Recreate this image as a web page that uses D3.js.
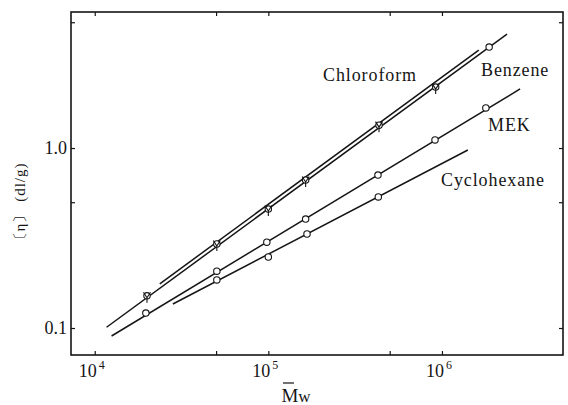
<!DOCTYPE html>
<html>
<head>
<meta charset="utf-8">
<script src="https://cdn.jsdelivr.net/npm/d3@7"></script>
<style>
  html, body { margin: 0; padding: 0; background: #fff; }
  svg { display: block; }
  text { font-family: "Liberation Serif", "DejaVu Serif", serif; fill: #151515; }
</style>
</head>
<body>
<svg id="chart" width="568" height="405"></svg>
<script>
// ---- Data ----
const benzeneM   = [2.0e4, 5.05e4, 1.0e5, 1.64e5, 4.34e5, 9.2e5, 1.87e6];
const benzeneEta = [0.151, 0.293, 0.458, 0.664, 1.34, 2.18, 3.64];
const chloroM    = [2.0e4, 5.05e4, 1.0e5, 1.64e5, 4.34e5, 9.2e5];
const chloroEta  = [0.151, 0.293, 0.458, 0.664, 1.34, 2.18];
const mekM       = [1.97e4, 5.05e4, 9.8e4, 1.64e5, 4.28e5, 9.12e5, 1.79e6];
const mekEta     = [0.121, 0.207, 0.300, 0.403, 0.708, 1.11, 1.67];
const cycloM     = [5.05e4, 1.0e5, 1.67e5, 4.3e5];
const cycloEta   = [0.185, 0.248, 0.333, 0.535];

// fitted straight lines (end points)
const benzeneLineM = [1.17e4, 2.37e6], benzeneLineEta = [0.101, 4.30];
const chloroLineM  = [2.37e4, 1.63e6], chloroLineEta  = [0.176, 3.50];
const mekLineM     = [1.25e4, 2.82e6], mekLineEta     = [0.0903, 2.13];
const cycloLineM   = [2.82e4, 1.41e6], cycloLineEta   = [0.136, 0.975];

const xMajor = [1e4, 1e5, 1e6];
const xMinor = [5e4, 5e5];
const xTickLabels = ["4", "5", "6"];
const yTicks = [0.1, 0.5, 1.0, 5.0];
const yLabelTicks = [0.1, 1.0];
const yTickLabels = ["0.1", "1.0"];

const seriesLabels = ["Chloroform", "Benzene", "MEK", "Cyclohexane"];

// ---- Layout ----
const svg = d3.select("#chart");
const L = 71, R = 563, T = 12, B = 355;
const x = d3.scaleLog().domain([7300, 4.98e6]).range([L, R]);
const y = d3.scaleLog().domain([0.0708, 5.70]).range([B, T]);
const ink = "#151515";

// frame
svg.append("rect").attr("x", L).attr("y", T).attr("width", R - L).attr("height", B - T)
  .attr("fill", "none").attr("stroke", ink).attr("stroke-width", 1.6);

// ticks (inward on all four sides)
const xAll = xMajor.concat(xMinor);
const gB = svg.append("g").attr("transform", `translate(0,${B})`)
  .call(d3.axisBottom(x).tickValues(xAll).tickSize(-4).tickFormat(""));
const gT = svg.append("g").attr("transform", `translate(0,${T})`)
  .call(d3.axisTop(x).tickValues(xAll).tickSize(-4).tickFormat(""));
const gL = svg.append("g").attr("transform", `translate(${L},0)`)
  .call(d3.axisLeft(y).tickValues(yTicks).tickSize(-4).tickFormat(""));
const gR = svg.append("g").attr("transform", `translate(${R},0)`)
  .call(d3.axisRight(y).tickValues(yTicks).tickSize(-4).tickFormat(""));
[gB, gT, gL, gR].forEach(g => {
  g.select(".domain").remove();
  g.selectAll("line").attr("stroke", ink).attr("stroke-width", 1.2);
});

// x tick labels 10^n
xMajor.forEach((v, i) => {
  const t = svg.append("text").attr("x", x(v) - 3).attr("y", 377)
    .attr("text-anchor", "middle").attr("font-size", 18);
  t.append("tspan").text("10");
  t.append("tspan").attr("dy", -8).attr("font-size", 12).attr("dx", 2).text(xTickLabels[i]);
});

// y tick labels
yLabelTicks.forEach((v, i) => {
  svg.append("text").attr("x", L - 4).attr("y", y(v) + 6)
    .attr("text-anchor", "end").attr("font-size", 18).text(yTickLabels[i]);
});

// axis titles
const xt = svg.append("text").attr("x", 296).attr("y", 402).attr("text-anchor", "middle")
  .attr("font-size", 19);
xt.append("tspan").text("M");
xt.append("tspan").text("w").attr("font-size", 17);
svg.append("line").attr("x1", 283).attr("x2", 294).attr("y1", 383).attr("y2", 383)
  .attr("stroke", ink).attr("stroke-width", 1.2);

svg.append("text")
  .attr("transform", "translate(25,205) rotate(-90)")
  .attr("text-anchor", "middle").attr("font-size", 15).attr("fill", "#333")
  .attr("letter-spacing", 1)
  .text("〔η〕 (dl/g)");

// lines
const line = d3.line().x(d => x(d[0])).y(d => y(d[1]));
const lines = [
  [benzeneLineM, benzeneLineEta],
  [chloroLineM, chloroLineEta],
  [mekLineM, mekLineEta],
  [cycloLineM, cycloLineEta]
];
lines.forEach(([ms, es]) => {
  svg.append("path").datum(ms.map((m, i) => [m, es[i]]))
    .attr("d", line).attr("fill", "none").attr("stroke", ink).attr("stroke-width", 1.5);
});

// markers
function circles(ms, es) {
  svg.append("g").selectAll("circle").data(ms.map((m, i) => [m, es[i]])).join("circle")
    .attr("cx", d => x(d[0])).attr("cy", d => y(d[1])).attr("r", 3.2)
    .attr("fill", "#fff").attr("stroke", ink).attr("stroke-width", 1.1);
}
circles(mekM, mekEta);
circles(cycloM, cycloEta);
circles(benzeneM, benzeneEta);
// chloroform: small down-pointing marks with a tail, overlapping the benzene circles
const cg = svg.append("g");
chloroM.forEach((m, i) => {
  const cx = x(m), cy = y(chloroEta[i]);
  cg.append("path")
    .attr("d", `M${cx - 3.5},${cy - 3.5} L${cx},${cy + 2} L${cx + 3.5},${cy - 3.5} M${cx},${cy + 2} L${cx},${cy + 7}`)
    .attr("fill", "none").attr("stroke", ink).attr("stroke-width", 1.1);
});

// series labels
const labelPos = [[323, 81], [481, 76], [488, 131], [441, 186]];
seriesLabels.forEach((s, i) => {
  svg.append("text").attr("x", labelPos[i][0]).attr("y", labelPos[i][1])
    .attr("font-size", 18).attr("letter-spacing", 0.9).text(s);
});
</script>
</body>
</html>
